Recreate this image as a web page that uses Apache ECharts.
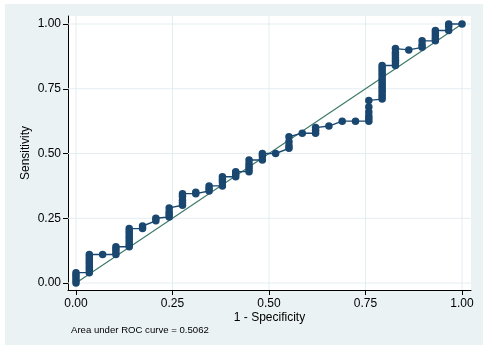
<!DOCTYPE html>
<html>
<head>
<meta charset="utf-8">
<script src="https://cdn.jsdelivr.net/npm/echarts@6/dist/echarts.min.js"></script>
<style>
  body { margin: 0; background: #fff; }
  .region { position: absolute; left: 5px; top: 4px; width: 478px; height: 341px; background: #eaf2f3; }
  #main { position: absolute; left: 0; top: 0; width: 496px; height: 350px; }
</style>
</head>
<body>
<div class="region"></div>
<div id="main"></div>
<script>
// 1 - specificity at each step (29 negatives)
var fprSteps = [0, 0.0345, 0.069, 0.1034, 0.1379, 0.1724, 0.2069, 0.2414, 0.2759, 0.3103,
  0.3448, 0.3793, 0.4138, 0.4483, 0.4828, 0.5172, 0.5517, 0.5862, 0.6207, 0.6552,
  0.6897, 0.7241, 0.7586, 0.7931, 0.8276, 0.8621, 0.8966, 0.931, 0.9655, 1];
// sensitivity values of the points stacked at each step
var sensSteps = [
  [0, 0.01, 0.02, 0.03, 0.04],
  [0.04, 0.05, 0.06, 0.07, 0.08, 0.09, 0.10, 0.11],
  [0.11],
  [0.11, 0.12, 0.13, 0.14],
  [0.14, 0.15, 0.16, 0.17, 0.18, 0.19, 0.20, 0.21],
  [0.21, 0.22],
  [0.24, 0.25],
  [0.255, 0.265, 0.275, 0.29],
  [0.30, 0.31, 0.32, 0.335, 0.345],
  [0.345, 0.35],
  [0.355, 0.365, 0.375],
  [0.375, 0.39, 0.40, 0.41],
  [0.41, 0.42, 0.43],
  [0.43, 0.44, 0.45, 0.46, 0.475],
  [0.475, 0.49, 0.50],
  [0.50],
  [0.52, 0.53, 0.545, 0.565],
  [0.578],
  [0.578, 0.59, 0.60],
  [0.606],
  [0.625],
  [0.625],
  [0.625, 0.635, 0.645, 0.66, 0.68, 0.705],
  [0.71, 0.72, 0.73, 0.74, 0.75, 0.76, 0.77, 0.78, 0.79, 0.80, 0.81, 0.82, 0.83, 0.84],
  [0.84, 0.85, 0.86, 0.87, 0.88, 0.89, 0.905],
  [0.90],
  [0.91, 0.92, 0.935],
  [0.935, 0.945, 0.955, 0.965, 0.975],
  [0.975, 0.99, 1.0],
  [1.0]
];
var tickValues = [0, 0.25, 0.5, 0.75, 1];
var aucText = "Area under ROC curve = 0.5062";

var xMin = -0.0207, xMax = 1.0233;
var yMin = -0.027, yMax = 1.0309;

var rocData = [];
fprSteps.forEach(function (x, i) {
  sensSteps[i].forEach(function (y) { rocData.push([x, y]); });
});

var series = [];
// grid lines, drawn first so they sit under everything else
tickValues.forEach(function (v) {
  series.push({ type: "line", z: 1, silent: true, showSymbol: false,
    data: [[v, yMin], [v, yMax]], lineStyle: { color: "#e4edf0", width: 1 } });
  series.push({ type: "line", z: 1, silent: true, showSymbol: false,
    data: [[xMin, v], [xMax, v]], lineStyle: { color: "#e4edf0", width: 1 } });
});
// reference line
series.push({ type: "line", z: 2, silent: true, showSymbol: false,
  data: [[0, 0], [1, 1]], lineStyle: { color: "#3f7a6a", width: 1.2 } });
series.push({ type: "line", z: 3, data: rocData,
  symbol: "circle", symbolSize: 7.5, showSymbol: true,
  itemStyle: { color: "#1a476f" },
  lineStyle: { color: "#1a476f", width: 1.4 } });

var chart = echarts.init(document.getElementById("main"));
var font = "Liberation Sans, Arial, sans-serif";
chart.setOption({
  backgroundColor: "transparent",
  animation: false,
  grid: {
    left: 68, right: 25, top: 16, bottom: 60,
    show: true, backgroundColor: "#fff", borderWidth: 0
  },
  xAxis: {
    type: "value",
    min: xMin, max: xMax,
    name: "1 - Specificity",
    nameLocation: "middle",
    nameGap: 22,
    nameMoveOverlap: false,
    nameTextStyle: { color: "#000", fontSize: 12, fontFamily: font },
    axisLine: { onZero: false, lineStyle: { color: "#000", width: 1 } },
    axisTick: { show: true, length: 5, customValues: tickValues, lineStyle: { color: "#000" } },
    axisLabel: {
      customValues: tickValues, margin: 8, color: "#000", fontSize: 12, fontFamily: font,
      formatter: function (v) { return v.toFixed(2); }
    },
    splitLine: { show: false }
  },
  yAxis: {
    type: "value",
    min: yMin, max: yMax,
    name: "Sensitivity",
    nameLocation: "middle",
    nameGap: 36,
    nameRotate: 90,
    nameMoveOverlap: false,
    nameTextStyle: { color: "#000", fontSize: 12, fontFamily: font },
    axisLine: { show: true, onZero: false, lineStyle: { color: "#000", width: 1 } },
    axisTick: { show: true, length: 5, customValues: tickValues, lineStyle: { color: "#000" } },
    axisLabel: {
      customValues: tickValues, margin: 7, color: "#000", fontSize: 12, fontFamily: font,
      formatter: function (v) { return v.toFixed(2); }
    },
    splitLine: { show: false }
  },
  graphic: [{
    type: "text",
    left: 71, top: 325,
    style: { text: aucText, fill: "#000", fontSize: 9.6, fontFamily: font }
  }],
  series: series
});
</script>
</body>
</html>
